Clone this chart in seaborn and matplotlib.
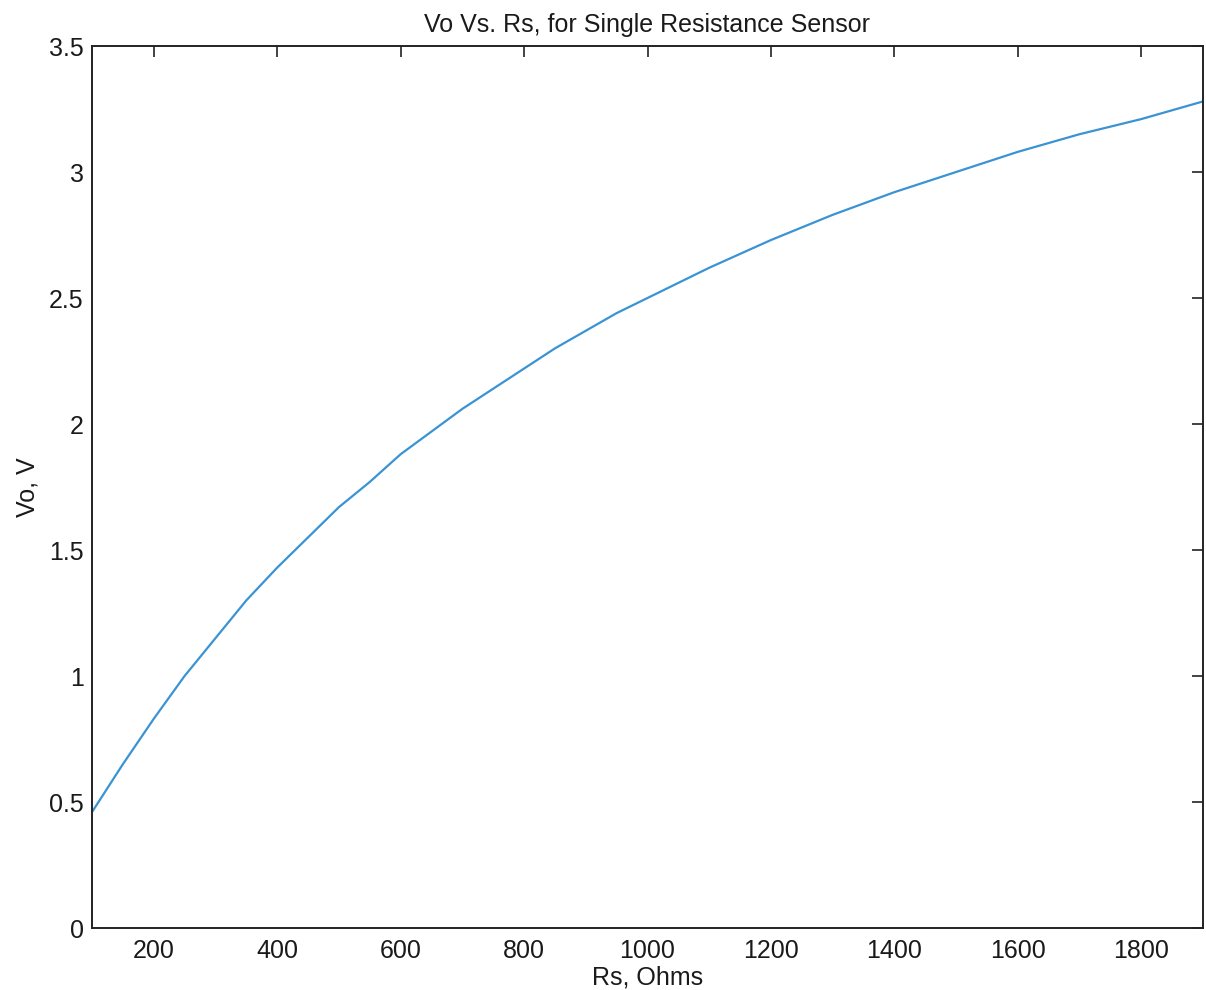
import numpy as np
import pandas as pd
import matplotlib
matplotlib.use('Agg')
import matplotlib.pyplot as plt
import seaborn as sns
from matplotlib.ticker import FormatStrFormatter

# values
rs_ohms = [100, 150, 200, 250, 300, 350, 400, 450, 500, 550, 600, 650, 700,
           750, 800, 850, 900, 950, 1000, 1100, 1200, 1300, 1400, 1500,
           1600, 1700, 1800, 1900]
vo_volts = [0.46, 0.65, 0.83, 1.00, 1.15, 1.30, 1.43, 1.55, 1.67, 1.77,
            1.88, 1.97, 2.06, 2.14, 2.22, 2.30, 2.37, 2.44, 2.50, 2.62,
            2.73, 2.83, 2.92, 3.00, 3.08, 3.15, 3.21, 3.28]
x_ticks = [200, 400, 600, 800, 1000, 1200, 1400, 1600, 1800]
y_ticks = [0, 0.5, 1, 1.5, 2, 2.5, 3, 3.5]

df = pd.DataFrame({'Rs': rs_ohms, 'Vo': vo_volts})

sns.set_theme(style='white')
plt.rcParams['font.family'] = ['Liberation Sans', 'DejaVu Sans']

W, H = 1206, 990
fig = plt.figure(figsize=(W / 100, H / 100), dpi=100)
ax = fig.add_axes([92 / W, 62 / H, 1111 / W, 882 / H])

sns.lineplot(data=df, x='Rs', y='Vo', ax=ax, color='#3a93d3', linewidth=1.6)

ax.set_xlim(100, 1900)
ax.set_ylim(0, 3.5)
ax.set_xticks(x_ticks)
ax.set_yticks(y_ticks)
ax.yaxis.set_major_formatter(FormatStrFormatter('%g'))

ax.tick_params(direction='in', top=True, right=True, length=8, width=1.2,
               color='#222222', labelsize=18, labelcolor='#1a1a1a')
ax.tick_params(axis='x', pad=8)
ax.tick_params(axis='y', pad=6)
for s in ax.spines.values():
    s.set_color('#222222')
    s.set_linewidth(1.4)

ax.set_title('Vo Vs. Rs, for Single Resistance Sensor', fontsize=18,
             color='#1a1a1a', pad=10)
ax.set_xlabel('Rs, Ohms', fontsize=18, color='#1a1a1a', labelpad=2)
ax.set_ylabel('Vo, V', fontsize=18, color='#1a1a1a', labelpad=7)

fig.savefig('out.png', dpi=100, facecolor='white')
